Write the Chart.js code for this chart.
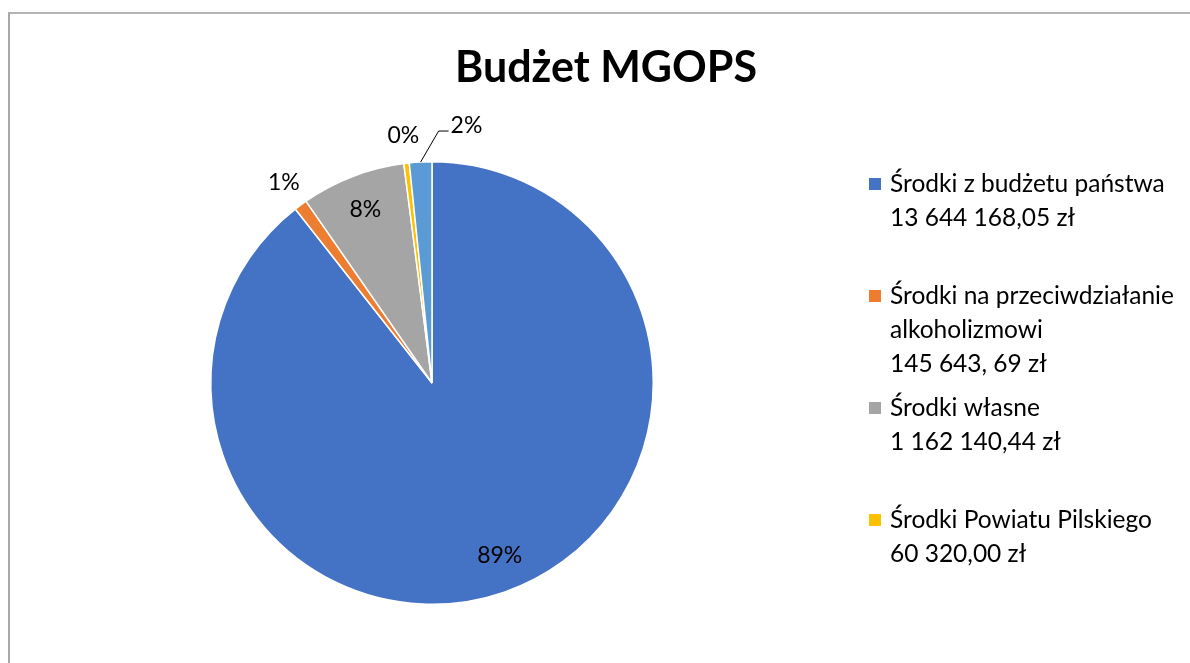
<!DOCTYPE html>
<html>
<head>
<meta charset="utf-8">
<script src="https://cdn.jsdelivr.net/npm/chart.js@4"></script>
<style>
  html, body { margin: 0; padding: 0; background: #fff; overflow: hidden; }
  #frame {
    position: absolute; left: 8px; top: 12px; width: 1300px; height: 800px;
    border-top: 2px solid #b4b4b4; border-left: 2px solid #a8a8a8;
  }
  #chart1 { position: absolute; left: 0; top: 0; }
</style>
</head>
<body>
<div id="frame"></div>
<canvas id="chart1" width="1190" height="663"></canvas>
<script>
// Budget parts (PLN)
const categories = [
    ['Środki z budżetu państwa'],
    ['Środki na przeciwdziałanie', 'alkoholizmowi'],
    ['Środki własne'],
    ['Środki Powiatu Pilskiego'],
    ['Pozostałe środki']
];
const amountLabels = ['13 644 168,05 zł', '145 643, 69 zł', '1 162 140,44 zł', '60 320,00 zł', ''];
const values = [13644168.05, 145643.69, 1162140.44, 60320.00, 250000];
const colors = ['#4472C4', '#ED7D31', '#A5A5A5', '#FFC000', '#5B9BD5'];
const legendCount = 4; // only the first four entries fit in the legend box

const FONT = 'Lato, "Noto Sans", sans-serif';

// percentages on / around the slices
const sliceLabels = {
    id: 'sliceLabels',
    afterDatasetsDraw(chart) {
        const ctx = chart.ctx;
        const meta = chart.getDatasetMeta(0);
        const data = chart.data.datasets[0].data;
        const total = data.reduce((a, b) => a + b, 0);
        ctx.save();
        ctx.font = '23px ' + FONT;
        ctx.fillStyle = '#000';
        ctx.textBaseline = 'middle';
        meta.data.forEach((arc, i) => {
            const pct = data[i] / total * 100;
            const text = Math.round(pct) + '%';
            const mid = (arc.startAngle + arc.endAngle) / 2;
            const r = arc.outerRadius;
            if (i === 4) {
                // leader line to the right
                const px = arc.x + Math.cos(mid) * r;
                const py = arc.y + Math.sin(mid) * r;
                const ex = px + 18, ey = py - 31;
                ctx.strokeStyle = '#000';
                ctx.lineWidth = 1;
                ctx.beginPath();
                ctx.moveTo(px, py);
                ctx.lineTo(ex, ey);
                ctx.lineTo(ex + 10, ey);
                ctx.stroke();
                ctx.textAlign = 'left';
                ctx.fillText(text, ex + 12, ey - 5);
                return;
            }
            const d = pct > 5 ? r * 0.84 : r + 28;
            const a = pct > 50 ? mid - 0.04 : mid;
            ctx.textAlign = 'center';
            ctx.fillText(text, arc.x + Math.cos(a) * d, arc.y + Math.sin(a) * d);
        });
        ctx.restore();
    }
};

// title and multi-line legend on the right
const sideText = {
    id: 'sideText',
    afterDraw(chart) {
        const ctx = chart.ctx;
        ctx.save();
        ctx.fillStyle = '#000';
        ctx.font = 'bold 43px ' + FONT;
        ctx.textAlign = 'center';
        ctx.textBaseline = 'alphabetic';
        ctx.fillText('Budżet MGOPS', 606, 82);

        ctx.font = '24.5px ' + FONT;
        ctx.textAlign = 'left';
        ctx.textBaseline = 'middle';
        for (let i = 0; i < legendCount; i++) {
            const top = 184 + i * 112;
            const lines = categories[i].concat([amountLabels[i]]);
            ctx.fillStyle = colors[i];
            ctx.fillRect(869, top - 6, 12, 12);
            ctx.fillStyle = '#000';
            lines.forEach((ln, k) => ctx.fillText(ln, 890, top + k * 34));
        }
        ctx.restore();
    }
};

const ctx = document.getElementById('chart1').getContext('2d');
new Chart(ctx, {
    type: 'pie',
    data: {
        labels: categories.map(c => c.join(' ')),
        datasets: [{
            data: values,
            backgroundColor: colors,
            borderColor: '#ffffff',
            borderWidth: 1.5
        }]
    },
    options: {
        responsive: false,
        animation: false,
        layout: {
            padding: { left: 210, right: 536, top: 161, bottom: 58 }
        },
        plugins: {
            legend: { display: false },
            title: { display: false },
            tooltip: { enabled: false }
        }
    },
    plugins: [sliceLabels, sideText]
});
</script>
</body>
</html>
